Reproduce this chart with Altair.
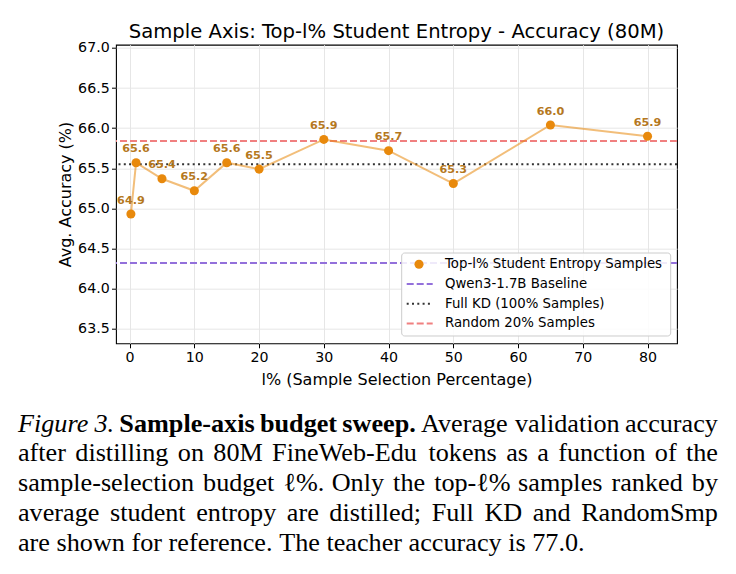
import altair as alt
import pandas as pd

# ---- data: Top-l% student-entropy sample selection, 80M tokens ----
pct = [0.2, 1, 5, 10, 15, 20, 30, 40, 50, 65, 80]
accuracy = [64.93, 65.57, 65.37, 65.22, 65.57, 65.49, 65.86, 65.72, 65.31, 66.04, 65.90]
series_label = "Top-l% Student Entropy Samples"

# reference accuracies drawn as horizontal lines
ref_names = ["Qwen3-1.7B Baseline", "Full KD (100% Samples)", "Random 20% Samples"]
ref_values = [64.32, 65.55, 65.84]
ref_colors = ["#9370db", "#333333", "#f08080"]
ref_dashes = [[7, 3], [2, 3.3], [7, 3]]

x_ticks = [0, 10, 20, 30, 40, 50, 60, 70, 80]
y_ticks = [63.5, 64.0, 64.5, 65.0, 65.5, 66.0, 66.5, 67.0]
x_domain = [-2.1, 84.55]
y_domain = [63.32, 67.04]

title_text = "Sample Axis: Top-l% Student Entropy - Accuracy (80M)"
x_title = "l% (Sample Selection Percentage)"
y_title = "Avg. Accuracy (%)"

caption_lines = [
    [("Figure 3.", "italic"), ("Sample-axis budget sweep.", "bold"),
     ("Average validation accuracy", "regular")],
    [("after distilling on 80M FineWeb-Edu tokens as a function of the", "regular")],
    [("sample-selection budget \u2113%. Only the top-\u2113% samples ranked by", "regular")],
    [("average student entropy are distilled; Full KD and RandomSmp", "regular")],
    [("are shown for reference. The teacher accuracy is 77.0.", "regular")],
]

# ---- styling ----
ORANGE = "#e8890c"
LABEL_COLOR = "#b5781e"
SANS = "DejaVu Sans"
SERIF = "Liberation Serif"

W, H = 561, 298.6
LEFT, TOP = 116, 44.7
FULL_W, FULL_H = 736, 574

df = pd.DataFrame({"pct": pct, "acc": accuracy})
df["label"] = [f"{v:.1f}" for v in accuracy]

x_enc = alt.X(
    "pct:Q",
    scale=alt.Scale(domain=x_domain, nice=False, zero=False),
    axis=alt.Axis(values=x_ticks, format="d", title=x_title,
                  titleY=36.5, titleBaseline="middle"),
)
y_enc = alt.Y(
    "acc:Q",
    scale=alt.Scale(domain=y_domain, nice=False, zero=False),
    axis=alt.Axis(values=y_ticks, format=".1f", title=y_title,
                  titleX=-51, titleY=H / 2, titleBaseline="middle",
                  titleAngle=-90, titleAlign="center"),
)

layers = []

# reference lines
for name, val, col, dash in zip(ref_names, ref_values, ref_colors, ref_dashes):
    layers.append(
        alt.Chart(pd.DataFrame({"acc": [val], "name": [name]}))
        .mark_rule(color=col, strokeDash=dash, strokeWidth=2)
        .encode(y=y_enc)
    )

base = alt.Chart(df)
layers.append(base.mark_line(color=ORANGE, opacity=0.55, strokeWidth=2).encode(x=x_enc, y=y_enc))
layers.append(base.mark_circle(size=82, color=ORANGE, opacity=1).encode(x=x_enc, y=y_enc))
layers.append(
    base.mark_text(dy=-10.3, fontWeight="bold", fontSize=11.2, color=LABEL_COLOR,
                   font=SANS, baseline="alphabetic", align="center")
    .encode(x=x_enc, y=y_enc, text="label:N")
)

one = pd.DataFrame({"k": [0]})


def text_at(x, y, s, **kw):
    return alt.Chart(one).mark_text(**kw).encode(
        x=alt.value(x), y=alt.value(y), text=alt.value(s)
    )


# chart title
layers.append(text_at(W / 2, -6.7, title_text, font=SANS, fontSize=19.6,
                      color="black", align="center", baseline="alphabetic"))

# ---- legend (lower right of the plot) ----
lx0, lx1, ly0, ly1 = 285.7, 554.7, 208.3, 291.3
row0, row_step = 219.6, 19.7
layers.append(
    alt.Chart(one).mark_rect(fill="white", fillOpacity=0.85, stroke="#cccccc",
                             strokeWidth=1, cornerRadius=3)
    .encode(x=alt.value(lx0), x2=alt.value(lx1), y=alt.value(ly0), y2=alt.value(ly1))
)
legend_labels = [series_label] + ref_names
for i, lab in enumerate(legend_labels):
    ry = row0 + i * row_step
    if i == 0:
        layers.append(
            alt.Chart(one).mark_circle(size=82, color=ORANGE, opacity=1)
            .encode(x=alt.value(303), y=alt.value(ry))
        )
    else:
        layers.append(
            alt.Chart(one).mark_rule(color=ref_colors[i - 1], strokeDash=ref_dashes[i - 1],
                                     strokeWidth=2)
            .encode(x=alt.value(290.7), x2=alt.value(316.7), y=alt.value(ry))
        )
    layers.append(text_at(329, ry, lab, font=SANS, fontSize=13.3, color="black",
                          align="left", baseline="middle"))

# ---- caption (justified serif paragraph) ----
ROMAN = {" ": 250, "%": 833, "(": 333, ")": 333, ",": 250, "-": 333, ".": 250,
         ":": 278, ";": 278, "\u2113": 417,
         "A": 722, "B": 667, "C": 667, "D": 722, "E": 611, "F": 556, "G": 722,
         "H": 722, "I": 333, "J": 389, "K": 722, "L": 611, "M": 889, "N": 722,
         "O": 722, "P": 556, "Q": 722, "R": 667, "S": 556, "T": 611, "U": 722,
         "V": 722, "W": 944, "X": 722, "Y": 722, "Z": 611,
         "a": 444, "b": 500, "c": 444, "d": 500, "e": 444, "f": 333, "g": 500,
         "h": 500, "i": 278, "j": 278, "k": 500, "l": 278, "m": 778, "n": 500,
         "o": 500, "p": 500, "q": 500, "r": 333, "s": 389, "t": 278, "u": 500,
         "v": 500, "w": 722, "x": 500, "y": 500, "z": 444}
BOLD = {" ": 250, "-": 333, ".": 250, "S": 556, "a": 500, "b": 556, "d": 556,
        "e": 444, "g": 500, "i": 278, "l": 278, "m": 833, "p": 556, "s": 389,
        "t": 333, "u": 556, "w": 722, "x": 500}
ITALIC = {" ": 250, ".": 250, "F": 611, "i": 278, "g": 500, "u": 500, "r": 389,
          "e": 444}
WIDTHS = {"regular": ROMAN, "bold": BOLD, "italic": ITALIC}

CAP_SIZE = 26.2
CAP_LEFT, CAP_RIGHT = 18, 718
cap_baselines = [431.7, 461.4, 491.2, 520.9, 550.7]


def word_width(word, style):
    table = WIDTHS[style]
    return sum(table.get(ch, ROMAN.get(ch, 500)) for ch in word) * CAP_SIZE / 1000


for li, segs in enumerate(caption_lines):
    words = [(w, st) for text, st in segs for w in text.split(" ")]
    widths = [word_width(w, st) for w, st in words]
    if li < len(caption_lines) - 1:
        gap = (CAP_RIGHT - CAP_LEFT - sum(widths)) / (len(words) - 1)
    else:
        gap = 0.25 * CAP_SIZE
    xpos = CAP_LEFT
    for (w, st), ww in zip(words, widths):
        kw = dict(font=SERIF, fontSize=CAP_SIZE, color="black", align="left",
                  baseline="alphabetic")
        if st == "bold":
            kw["fontWeight"] = "bold"
        if st == "italic":
            kw["fontStyle"] = "italic"
        layers.append(text_at(xpos - LEFT, cap_baselines[li] - TOP, w, **kw))
        xpos += ww + gap

chart = (
    alt.layer(*layers)
    .properties(
        width=W, height=H,
        padding={"left": LEFT, "top": TOP, "right": FULL_W - LEFT - W,
                 "bottom": FULL_H - TOP - H},
        autosize=alt.AutoSizeParams(type="none"),
        background="white",
    )
    .configure_view(stroke="black", strokeWidth=1.1)
    .configure_axis(
        domain=False,
        grid=True, gridColor="#e6e6e6", gridWidth=1,
        ticks=True, tickColor="black", tickSize=4.5, tickWidth=1,
        labelFont=SANS, labelFontSize=14.2, labelColor="black", labelPadding=2.3,
        titleFont=SANS, titleFontSize=16, titleFontWeight="normal", titleColor="black",
    )
)

chart.save("out.html", embed_options={"renderer": "svg", "actions": False})
